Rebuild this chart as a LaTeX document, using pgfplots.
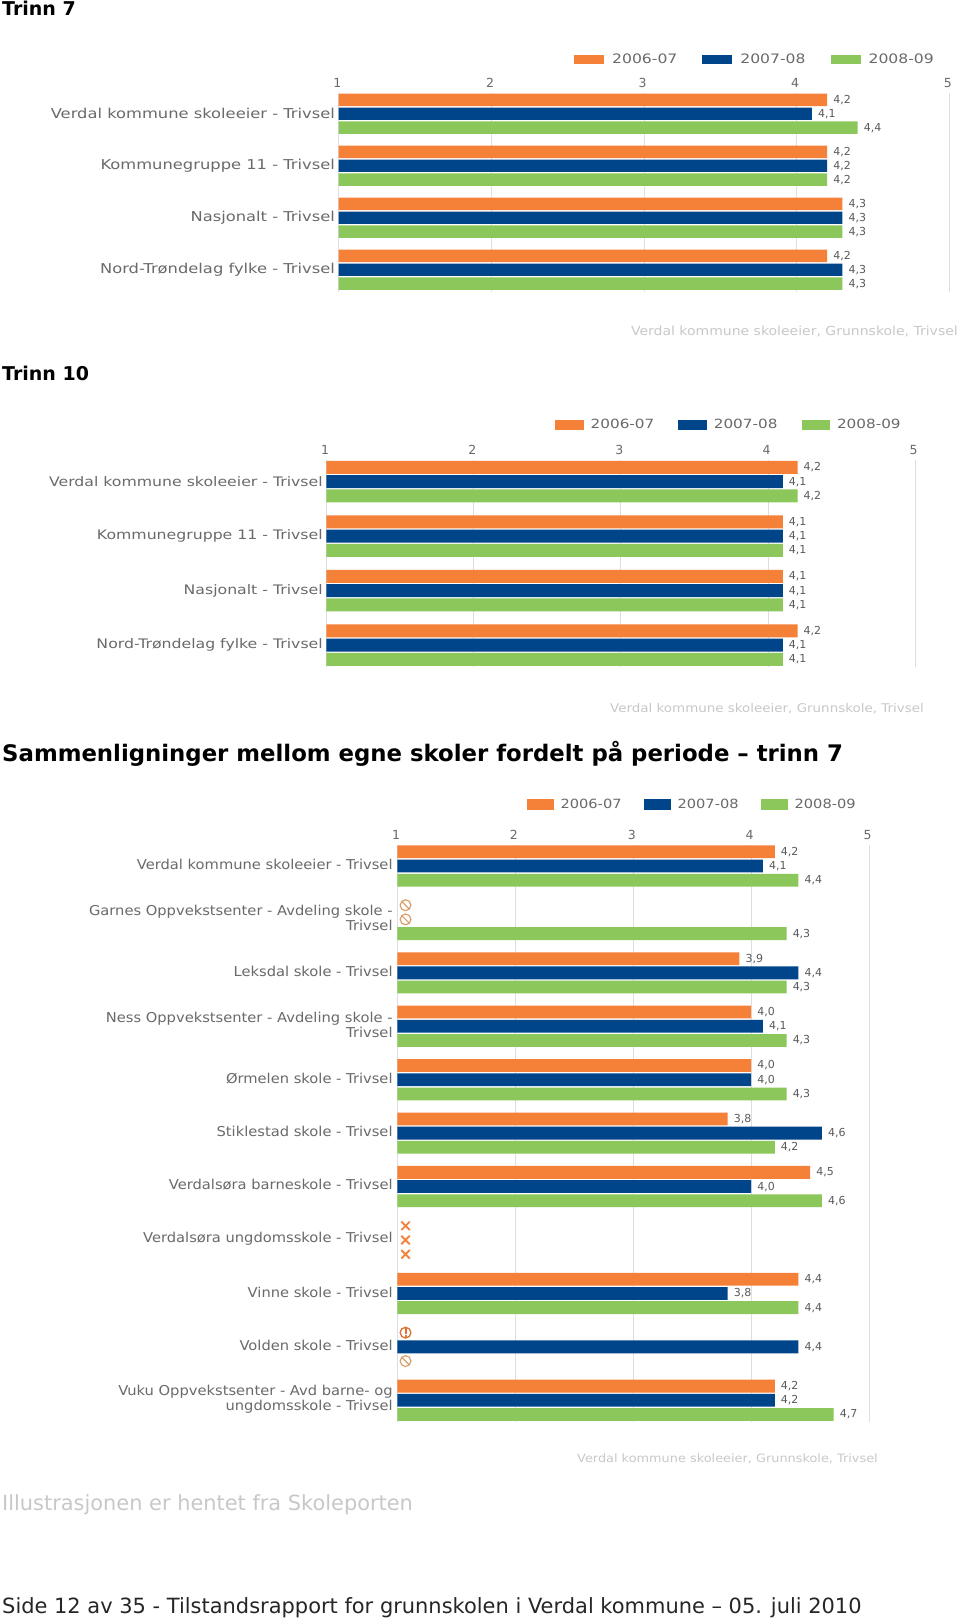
\documentclass[border=0pt]{standalone}
\usepackage{fontspec}
\usepackage{pgfplots}
\pgfplotsset{compat=1.18}
\setmainfont{DejaVu Sans}
\newfontfamily\st[FakeStretch=1.12]{DejaVu Sans}
\newfontfamily\stl[FakeStretch=1.2]{DejaVu Sans}
\newfontfamily\stc[FakeStretch=1.08]{DejaVu Sans}
\newfontfamily\stm[FakeStretch=1.15]{DejaVu Sans}
\definecolor{or}{HTML}{F58038}
\definecolor{bl}{HTML}{004489}
\definecolor{gr}{HTML}{8BC75A}
\definecolor{tx}{HTML}{6A6A6A}
\definecolor{gd}{HTML}{DEDEDE}
\definecolor{cr}{HTML}{C8C8C8}
\definecolor{tan}{HTML}{D9A06C}
\newcommand\val{\pgfmathprintnumber[fixed,fixed zerofill,precision=1,use comma,assume math mode=true]{\pgfplotspointmeta}}
\pgfdeclareplotmark{nosym}{%
  \pgfsetlinewidth{1.2pt}%
  \pgfpathcircle{\pgfpointorigin}{5.4pt}\pgfusepathqstroke
  \pgfpathmoveto{\pgfpoint{-3.8pt}{3.8pt}}\pgfpathlineto{\pgfpoint{3.8pt}{-3.8pt}}\pgfusepathqstroke}
\pgfdeclareplotmark{excl}{%
  \pgfsetlinewidth{1.3pt}%
  \pgfpathcircle{\pgfpointorigin}{5.4pt}\pgfusepathqstroke
  \pgfsetlinewidth{2pt}%
  \pgfpathmoveto{\pgfpoint{0pt}{5.4pt}}\pgfpathlineto{\pgfpoint{0pt}{-1pt}}\pgfusepathqstroke
  \pgfpathmoveto{\pgfpoint{0pt}{-2.5pt}}\pgfpathlineto{\pgfpoint{0pt}{-5.4pt}}\pgfusepathqstroke}
\pgfplotsset{
  bb/.style n args={3}{xbar, bar width=#1pt, bar shift=#2pt, fill=#3, draw=none, point meta=x,
    nodes near coords={\val},
    nodes near coords style={font=\fontsize{11}{11}\selectfont, text=tx!85!black, inner sep=0pt, anchor=west, xshift=6pt, yshift=#2pt}},
  base/.style={
    scale only axis, clip=true, xmin=0.998, xmax=5.002,
    xtick={1,2,3,4,5}, xticklabels={1,2,3,4,5}, xticklabel pos=top,
    xmajorgrids, grid style={gd, line width=1pt},
    axis line style={draw=none}, major tick length=0pt, tick style={draw=none},
    xticklabel style={font=\fontsize{12.5}{13}\selectfont, text=tx, inner sep=0pt, yshift=5pt, xshift=-1.5pt},
    yticklabel style={text=tx, inner sep=0pt, align=right, xshift=-3.5pt},
    legend cell align=left,
    ytick={0,...,3},
  },
}
\begin{document}
\begin{tikzpicture}[x=1pt,y=1pt]
\useasboundingbox (0,0) rectangle (960,1622);
\fill[white] (0,0) rectangle (960,1622);
% ---------- Chart 1
\begin{axis}[base, at={(338.6pt,1330pt)}, anchor=south west, width=611pt, height=199pt,
  ymin=-0.427, ymax=3.4,
  yticklabels={{Nord-Trøndelag fylke - Trivsel},{Nasjonalt - Trivsel},{Kommunegruppe 11 - Trivsel},{Verdal kommune skoleeier - Trivsel}},
  yticklabel style={font=\stl\fontsize{13.6}{15}\selectfont},
  legend image code/.code={\path[#1] (0pt,-4.8pt) rectangle (30pt,4.8pt);},
  legend style={at={(0.3853,1.169)}, anchor=west, draw=none, fill=none, inner sep=0pt, legend columns=-1,
    font=\stl\fontsize{13}{13}\selectfont, text=tx, nodes={inner sep=0pt},
    /tikz/every odd column/.style={column sep=8pt}, /tikz/every even column/.style={column sep=25pt}},
]
\addplot[bb={12.4}{13.9}{or}] coordinates {(4.2,3)(4.2,2)(4.3,1)(4.2,0)};
\addplot[bb={12.4}{0}{bl}] coordinates {(4.1,3)(4.2,2)(4.3,1)(4.3,0)};
\addplot[bb={12.4}{-13.9}{gr}] coordinates {(4.4,3)(4.2,2)(4.3,1)(4.3,0)};
\legend{2006-07,2007-08,2008-09}
\end{axis}
% ---------- Chart 2
\begin{axis}[base, at={(326.4pt,955pt)}, anchor=south west, width=589.1pt, height=207pt,
  ymin=-0.4, ymax=3.398,
  yticklabels={{Nord-Trøndelag fylke - Trivsel},{Nasjonalt - Trivsel},{Kommunegruppe 11 - Trivsel},{Verdal kommune skoleeier - Trivsel}},
  yticklabel style={font=\stl\fontsize{13.1}{15}\selectfont},
  legend image code/.code={\path[#1] (0pt,-5pt) rectangle (28.5pt,5pt);},
  legend style={at={(0.388,1.169)}, anchor=west, draw=none, fill=none, inner sep=0pt, legend columns=-1,
    font=\stl\fontsize{12.7}{13}\selectfont, text=tx, nodes={inner sep=0pt},
    /tikz/every odd column/.style={column sep=7pt}, /tikz/every even column/.style={column sep=24pt}},
]
\addplot[bb={13}{14.2}{or}] coordinates {(4.2,3)(4.1,2)(4.1,1)(4.2,0)};
\addplot[bb={13}{0}{bl}] coordinates {(4.1,3)(4.1,2)(4.1,1)(4.1,0)};
\addplot[bb={13}{-14.2}{gr}] coordinates {(4.2,3)(4.1,2)(4.1,1)(4.1,0)};
\legend{2006-07,2007-08,2008-09}
\end{axis}
% ---------- Chart 3
\begin{axis}[base, at={(397.3pt,200pt)}, anchor=south west, width=472pt, height=577pt,
  ymin=-0.406, ymax=10.393,
  ytick={0,...,10},
  yticklabels={{Vuku Oppvekstsenter - Avd barne- og\\ungdomsskole - Trivsel},{Volden skole - Trivsel},{Vinne skole - Trivsel},{Verdalsøra ungdomsskole - Trivsel},{Verdalsøra barneskole - Trivsel},{Stiklestad skole - Trivsel},{Ørmelen skole - Trivsel},{Ness Oppvekstsenter - Avdeling skole -\\Trivsel},{Leksdal skole - Trivsel},{Garnes Oppvekstsenter - Avdeling skole -\\Trivsel},{Verdal kommune skoleeier - Trivsel}},
  yticklabel style={font=\stc\fontsize{13.6}{15}\selectfont, xshift=-1pt, yshift=1.5pt},
  legend image code/.code={\path[#1] (0pt,-5.3pt) rectangle (27.5pt,5.3pt);},
  legend style={at={(0.2735,1.0705)}, anchor=west, draw=none, fill=none, inner sep=0pt, legend columns=-1,
    font=\stm\fontsize{12.7}{13}\selectfont, text=tx, nodes={inner sep=0pt},
    /tikz/every odd column/.style={column sep=6.5pt}, /tikz/every even column/.style={column sep=22pt}},
]
\addplot[bb={12.8}{14.2}{or}] coordinates {(4.2,10)(3.9,8)(4.0,7)(4.0,6)(3.8,5)(4.5,4)(4.4,2)(4.2,0)};
\addplot[bb={12.8}{0}{bl}] coordinates {(4.1,10)(4.4,8)(4.1,7)(4.0,6)(4.6,5)(4.0,4)(3.8,2)(4.4,1)(4.2,0)};
\addplot[bb={12.8}{-14.2}{gr}] coordinates {(4.4,10)(4.3,9)(4.3,8)(4.3,7)(4.3,6)(4.2,5)(4.6,4)(4.4,2)(4.7,0)};
\legend{2006-07,2007-08,2008-09}
\addplot[forget plot, only marks, mark=nosym, color=tan] coordinates {(1.068,9.266)(1.068,9)(1.068,0.734)};
\addplot[forget plot, only marks, mark=x, mark size=6pt, mark options={line width=1.9pt}, color=or!85!tan] coordinates {(1.068,3.266)(1.068,3)(1.068,2.734)};
\addplot[forget plot, only marks, mark=excl, color=or!90!black] coordinates {(1.068,1.266)};
\end{axis}
% ---------- Text
\node[anchor=west,inner sep=0pt,font=\bfseries\fontsize{19}{20}\selectfont] at (2,1614) {Trinn 7};
\node[anchor=west,inner sep=0pt,font=\bfseries\fontsize{19}{20}\selectfont] at (2,1249) {Trinn 10};
\node[anchor=west,inner sep=0pt,font=\bfseries\fontsize{22.8}{26}\selectfont] at (2,868) {Sammenligninger mellom egne skoler fordelt på periode – trinn 7};
\node[anchor=east,inner sep=0pt,text=cr,font=\st\fontsize{12.5}{14}\selectfont] at (958,1291) {Verdal kommune skoleeier, Grunnskole, Trivsel};
\node[anchor=east,inner sep=0pt,text=cr,font=\st\fontsize{12}{14}\selectfont] at (924,913) {Verdal kommune skoleeier, Grunnskole, Trivsel};
\node[anchor=east,inner sep=0pt,text=cr,font=\st\fontsize{11.5}{14}\selectfont] at (878,163) {Verdal kommune skoleeier, Grunnskole, Trivsel};
\node[anchor=west,inner sep=0pt,text=cr,font=\fontsize{20.9}{23}\selectfont] at (2,117) {Illustrasjonen er hentet fra Skoleporten};
\node[anchor=west,inner sep=0pt,text=black!85,font=\fontsize{20.95}{23}\selectfont] at (2,14) {Side 12 av 35 - Tilstandsrapport for grunnskolen i Verdal kommune – 05. juli 2010};
\end{tikzpicture}
\end{document}
